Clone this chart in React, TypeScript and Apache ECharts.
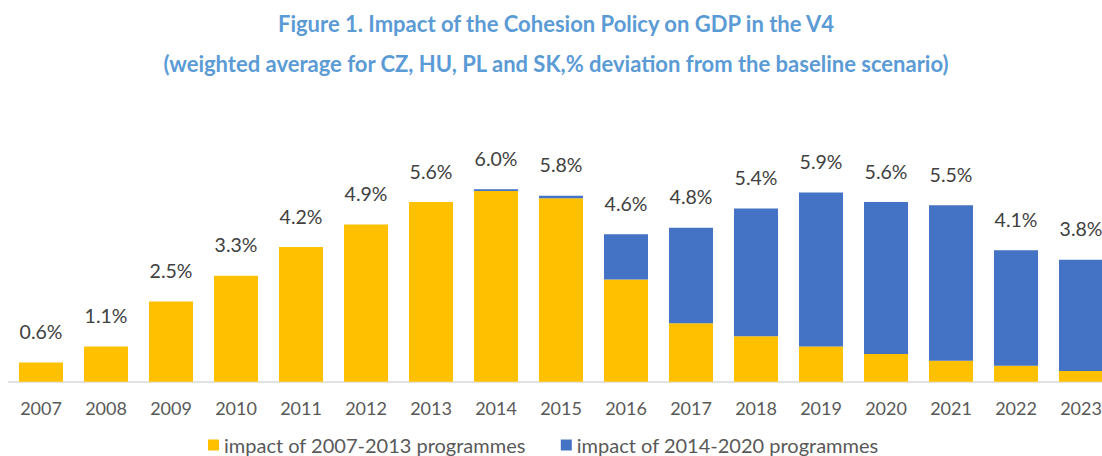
import React, { useEffect, useRef } from "react";
import * as echarts from "echarts";

const years = ["2007","2008","2009","2010","2011","2012","2013","2014","2015","2016","2017","2018","2019","2020","2021","2022","2023"];
const programmes0713 = [0.6, 1.1, 2.5, 3.3, 4.2, 4.9, 5.6, 5.95, 5.72, 3.19, 1.82, 1.42, 1.10, 0.86, 0.65, 0.50, 0.33];
const programmes1420 = [0, 0, 0, 0, 0, 0, 0, 0.05, 0.08, 1.41, 2.98, 3.98, 4.80, 4.74, 4.85, 3.60, 3.47];
const totalLabels = ["0.6%","1.1%","2.5%","3.3%","4.2%","4.9%","5.6%","6.0%","5.8%","4.6%","4.8%","5.4%","5.9%","5.6%","5.5%","4.1%","3.8%"];
const seriesNames = ["impact of 2007-2013 programmes", "impact of 2014-2020 programmes"];
const titleText = "Figure 1. Impact of the Cohesion Policy on GDP in the V4";
const subtitleText = "(weighted average for CZ, HU, PL and SK,% deviation from the baseline scenario)";

const FONT = "Lato, 'Noto Sans', sans-serif";

export default function App() {
  const ref = useRef<HTMLDivElement>(null);
  useEffect(() => {
    if (!ref.current) return;
    const chart = echarts.init(ref.current, undefined, { renderer: "svg" });
    chart.setOption({
      animation: false,
      backgroundColor: "#ffffff",
      textStyle: { fontFamily: FONT },
      title: [
        {
          text: titleText,
          left: 551,
          textAlign: "center",
          top: 7,
          textStyle: { fontFamily: FONT, fontSize: 22, fontWeight: "bold", color: "#5B9BD5" },
        },
        {
          text: subtitleText,
          left: 551,
          textAlign: "center",
          top: 47,
          textStyle: { fontFamily: FONT, fontSize: 22, fontWeight: "bold", color: "#5B9BD5" },
        },
      ],
      legend: {
        left: 203,
        top: 430,
        itemWidth: 11,
        itemHeight: 11,
        itemGap: 35,
        icon: "rect",
        textStyle: { fontFamily: FONT, fontSize: 20, color: "#595959" },
        data: seriesNames,
      },
      grid: { left: 8.5, top: 157.2, width: 1105, height: 224.5 },
      xAxis: {
        type: "category",
        data: years,
        axisLine: { lineStyle: { color: "#D9D9D9", width: 1.5 } },
        axisTick: { show: false },
        axisLabel: { color: "#595959", fontSize: 18, fontFamily: FONT, margin: 17 },
      },
      yAxis: { type: "value", min: 0, max: 7, show: false, splitLine: { show: false } },
      series: [
        {
          name: seriesNames[0],
          type: "bar",
          stack: "total",
          barWidth: 44,
          itemStyle: { color: "#FFC000" },
          data: programmes0713,
        },
        {
          name: seriesNames[1],
          type: "bar",
          stack: "total",
          barWidth: 44,
          itemStyle: { color: "#4472C4" },
          label: {
            show: true,
            position: "top",
            distance: 21,
            fontFamily: FONT,
            fontSize: 19.5,
            color: "#404040",
            formatter: (p: any) => totalLabels[p.dataIndex],
          },
          data: programmes1420,
        },
      ],
    });
    return () => chart.dispose();
  }, []);
  return (
    <div style={{ position: "absolute", left: 0, top: 0, width: 1102, height: 456, overflow: "hidden" }}>
      <div ref={ref} style={{ width: 1130, height: 456 }} />
    </div>
  );
}
